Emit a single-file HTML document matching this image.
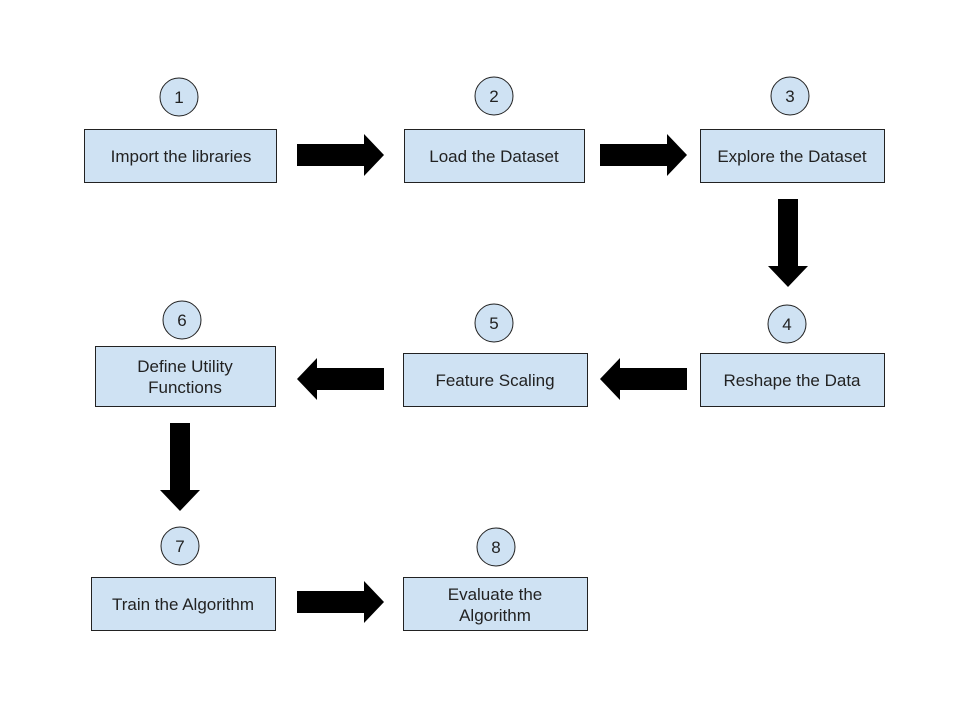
<!DOCTYPE html>
<html><head><meta charset="utf-8"><style>body{margin:0;background:#fff}text{font-family:"Liberation Sans",Arial,sans-serif;font-size:17px}</style></head><body>
<svg width="960" height="720" viewBox="0 0 960 720" xmlns="http://www.w3.org/2000/svg">
<rect width="960" height="720" fill="#fff"/>
<g fill="#cfe2f3" stroke="#222" stroke-width="1">
<rect x="84.5" y="129.5" width="192" height="53"/>
<rect x="404.5" y="129.5" width="180" height="53"/>
<rect x="700.5" y="129.5" width="184" height="53"/>
<rect x="700.5" y="353.5" width="184" height="53"/>
<rect x="403.5" y="353.5" width="184" height="53"/>
<rect x="95.5" y="346.5" width="180" height="60"/>
<rect x="91.5" y="577.5" width="184" height="53"/>
<rect x="403.5" y="577.5" width="184" height="53"/>
<circle cx="179" cy="97" r="19"/>
<circle cx="494" cy="96" r="19"/>
<circle cx="790" cy="96" r="19"/>
<circle cx="787" cy="324" r="19"/>
<circle cx="494" cy="323" r="19"/>
<circle cx="182" cy="320" r="19"/>
<circle cx="180" cy="546" r="19"/>
<circle cx="496" cy="547" r="19"/>
</g>
<g fill="#000">
<polygon points="297,144 364,144 364,134 384,155 364,176 364,166 297,166"/>
<polygon points="600,144 667,144 667,134 687,155 667,176 667,166 600,166"/>
<polygon points="297,591 364,591 364,581 384,602 364,623 364,613 297,613"/>
<polygon points="384,368 317,368 317,358 297,379 317,400 317,390 384,390"/>
<polygon points="687,368 620,368 620,358 600,379 620,400 620,390 687,390"/>
<polygon points="778,199 798,199 798,266 808,266 788,287 768,266 778,266"/>
<polygon points="170,423 190,423 190,490 200,490 180,511 160,490 170,490"/>
</g>
<g text-anchor="middle" fill="#222">
<text x="179" y="103">1</text><text x="494" y="102">2</text><text x="790" y="102">3</text>
<text x="787" y="330">4</text><text x="494" y="329">5</text><text x="182" y="326">6</text>
<text x="180" y="552">7</text><text x="496" y="553">8</text>
<text x="181" y="162">Import the libraries</text>
<text x="494" y="162">Load the Dataset</text>
<text x="792" y="162">Explore the Dataset</text>
<text x="792" y="386">Reshape the Data</text>
<text x="495" y="386">Feature Scaling</text>
<text x="185" y="372">Define Utility</text>
<text x="185" y="393">Functions</text>
<text x="183" y="610">Train the Algorithm</text>
<text x="495" y="600">Evaluate the</text>
<text x="495" y="621">Algorithm</text>
</g>
</svg>
</body></html>
